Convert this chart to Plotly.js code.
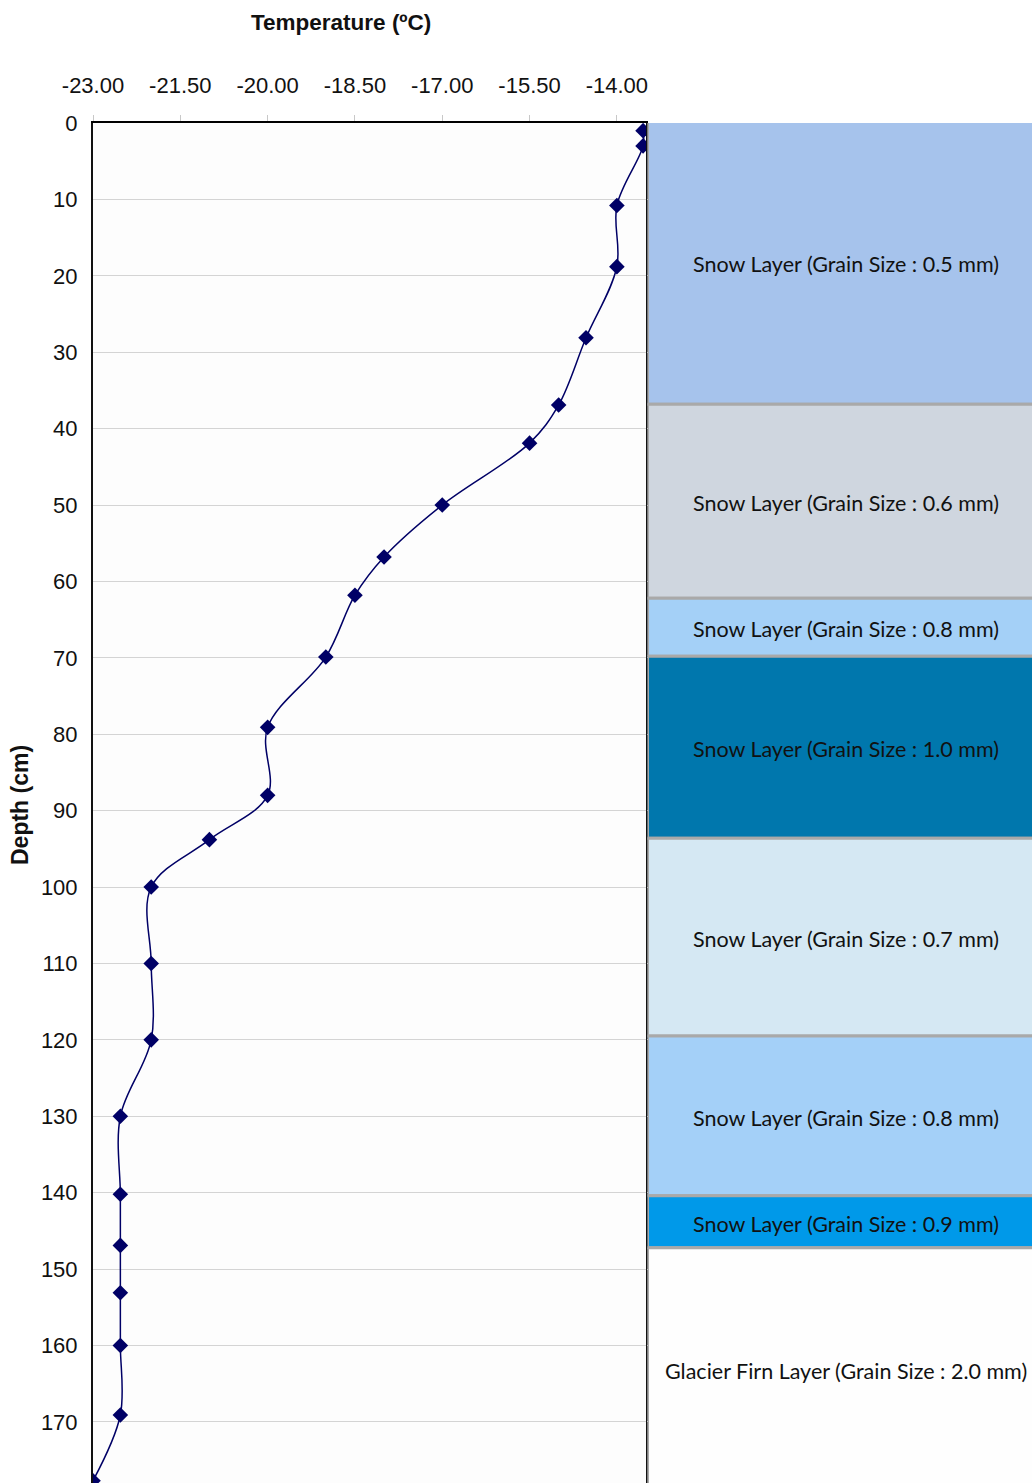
<!DOCTYPE html>
<html>
<head>
<meta charset="utf-8">
<script src="https://cdn.plot.ly/plotly-3.0.1.min.js"></script>
<style>
  html, body { margin: 0; padding: 0; background: #ffffff; }
  #chart { width: 1032px; height: 1483px; }
</style>
</head>
<body>
<div id="chart"></div>
<script>
// Snow-pit temperature profile with depth (cm) and the stratigraphy beside it.
const depthCm = [1, 3, 10.8, 18.8, 28.1, 36.9, 41.9, 50, 56.8, 61.8, 69.9, 79.1, 88, 93.8,
                 100, 110, 120, 130, 140.2, 146.9, 153.1, 160, 169.1, 177.7];
const tempC = [-13.55, -13.55, -14.0, -14.0, -14.53, -15.0, -15.5, -17.0, -18.0, -18.5, -19.0,
               -20.0, -20.0, -21.0, -22.0, -22.0, -22.0, -22.53, -22.53, -22.53, -22.53, -22.53,
               -22.53, -23.0];

const tempTicks = [-23.0, -21.5, -20.0, -18.5, -17.0, -15.5, -14.0];
const depthTicks = [0, 10, 20, 30, 40, 50, 60, 70, 80, 90, 100, 110, 120, 130, 140, 150, 160, 170];

// Stratigraphic layers (depth from the surface, cm)
const layerTop = [-0.4, 36.8, 62.2, 69.8, 93.6, 119.5, 140.4, 147.2];
const layerBottom = [36.8, 62.2, 69.8, 93.6, 119.5, 140.4, 147.2, 179];
const layerLabels = [
  'Snow Layer (Grain Size : 0.5 mm)',
  'Snow Layer (Grain Size : 0.6 mm)',
  'Snow Layer (Grain Size : 0.8 mm)',
  'Snow Layer (Grain Size : 1.0 mm)',
  'Snow Layer (Grain Size : 0.7 mm)',
  'Snow Layer (Grain Size : 0.8 mm)',
  'Snow Layer (Grain Size : 0.9 mm)',
  'Glacier Firn Layer (Grain Size : 2.0 mm)'
];
const layerColors = ['#a6c3ec', '#cfd6df', '#a4d0f7', '#0077ad', '#d5e8f3', '#a4d0f8', '#0099e9', '#fefefe'];

const tickFont = { family: '"Liberation Sans Narrow", "Arial Narrow", "Liberation Sans", Arial, sans-serif', size: 22, color: '#111111' };
const titleFont = { family: '"Liberation Sans", Arial, sans-serif', size: 22.5, color: '#111111' };
const layerFont = { family: 'Lato, "Open Sans", sans-serif', size: 21.5, color: '#111111' };

const traces = [];

// layer column: one bar per layer, spanning its depth interval
layerLabels.forEach((name, i) => {
  traces.push({
    type: 'bar',
    xaxis: 'x2',
    yaxis: 'y',
    x: [0],
    y: [layerBottom[i] - layerTop[i]],
    base: [layerTop[i]],
    width: [1],
    marker: { color: layerColors[i], line: { color: '#a9a9a9', width: 3 } },
    hoverinfo: 'skip',
    showlegend: false
  });
});

// temperature profile
traces.push({
  type: 'scatter',
  mode: 'lines+markers',
  x: tempC,
  y: depthCm,
  xaxis: 'x',
  yaxis: 'y',
  line: { color: '#000066', width: 1.5, shape: 'spline', smoothing: 1 },
  marker: { symbol: 'diamond', size: 12, color: '#000066' },
  cliponaxis: true,
  showlegend: false
});

const annotations = layerLabels.map((name, i) => ({
  text: name,
  xref: 'x2', yref: 'y',
  x: 0, y: (layerTop[i] + layerBottom[i]) / 2,
  yshift: -2,
  showarrow: false,
  font: layerFont,
  xanchor: 'center', yanchor: 'middle'
}));

annotations.push({
  text: '<b>Temperature (ºC)</b>',
  xref: 'paper', yref: 'paper',
  x: 0.264, y: 1, yshift: 101,
  showarrow: false, font: titleFont,
  xanchor: 'center', yanchor: 'middle'
});
annotations.push({
  text: '<b>Depth (cm)</b>',
  xref: 'paper', yref: 'paper',
  x: 0, xshift: -73, y: 0.5, yshift: -2,
  textangle: -90,
  showarrow: false, font: Object.assign({}, titleFont, { size: 23 }),
  xanchor: 'center', yanchor: 'middle'
});

const layout = {
  width: 1032,
  height: 1483,
  margin: { l: 93, r: 0, t: 123, b: 0 },
  paper_bgcolor: '#ffffff',
  plot_bgcolor: '#fdfdfd',
  showlegend: false,
  barmode: 'overlay',
  xaxis: {
    domain: [0, 0.5889],
    side: 'top',
    range: [-23, -13.5],
    tickvals: tempTicks,
    ticktext: tempTicks.map(v => v.toFixed(2)),
    ticks: 'outside', ticklen: 6, tickcolor: '#c8c8c8', tickwidth: 1,
    ticklabelstandoff: 13,
    tickfont: tickFont,
    showgrid: false, zeroline: false,
    showline: true, linecolor: '#000000', linewidth: 2,
    anchor: 'y'
  },
  xaxis2: {
    domain: [0.5905, 1],
    range: [-0.5, 0.47],
    visible: false,
    fixedrange: true,
    anchor: 'y'
  },
  yaxis: {
    range: [178, 0],
    tickvals: depthTicks,
    ticks: '',
    ticklabelstandoff: 9,
    tickfont: tickFont,
    showgrid: true, gridcolor: '#d4d4d4', gridwidth: 1,
    zeroline: false,
    showline: true, linecolor: '#111111', linewidth: 2,
    mirror: true
  },
  annotations: annotations
};

Plotly.newPlot('chart', traces, layout, { staticPlot: true, displayModeBar: false });
</script>
</body>
</html>
